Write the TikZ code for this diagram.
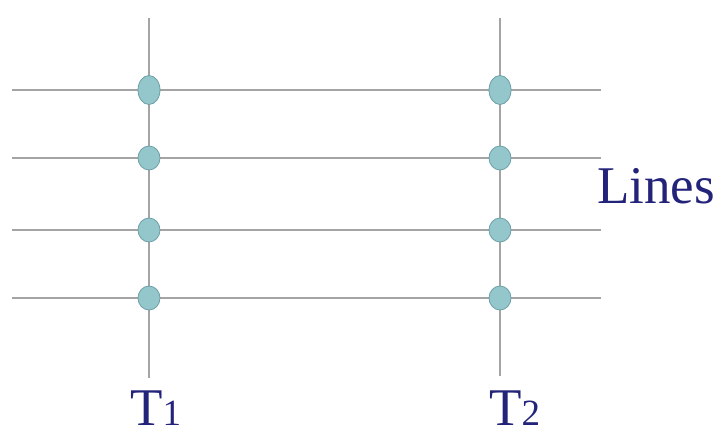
\documentclass[tikz,border=0pt]{standalone}
\usepackage{fontspec}
\setmainfont{Liberation Serif}
\usetikzlibrary{shapes.geometric}
\definecolor{linegray}{HTML}{A4A4A4}
\definecolor{dotfill}{HTML}{93C7CB}
\definecolor{dotedge}{HTML}{6E9FA6}
\definecolor{navy}{HTML}{23237A}
\begin{document}
\begin{tikzpicture}[x=1pt,y=-1pt,
  gridline/.style={draw=linegray,line width=1.6pt},
  dot/.style={ellipse,fill=dotfill,draw=dotedge,line width=0.8pt,inner sep=0pt,minimum width=22pt,minimum height=24pt},
  tall/.style={minimum height=29pt},
  lbl/.style={text=navy,inner sep=0pt,anchor=base west,font=\fontsize{53}{53}\selectfont}]
\useasboundingbox (0,0) rectangle (719,433);
% vertical line ends
\coordinate (t1top) at (149,18);
\coordinate (t1bot) at (149,378);
\coordinate (t2top) at (500,18);
\coordinate (t2bot) at (500,376);
% horizontal line ends
\foreach \i/\y in {1/90,2/158,3/230,4/298}{
  \coordinate (l\i) at (12,\y);
  \coordinate (r\i) at (601,\y);
}
\draw[gridline] (t1top) -- (t1bot);
\draw[gridline] (t2top) -- (t2bot);
\foreach \i in {1,...,4}{ \draw[gridline] (l\i) -- (r\i); }
% dots
\node[dot,tall] (a1) at (149,90) {};
\node[dot] (a2) at (149,158) {};
\node[dot] (a3) at (149,230) {};
\node[dot] (a4) at (149,298) {};
\node[dot,tall] (b1) at (500,90) {};
\node[dot] (b2) at (500,158) {};
\node[dot] (b3) at (500,230) {};
\node[dot] (b4) at (500,298) {};
% labels
\node[lbl] (lines) at (597,203) {Lines};
\node[lbl] (T1) at (130,425) {T{\fontsize{37}{37}\selectfont 1}};
\node[lbl] (T2) at (489,425) {T{\fontsize{37}{37}\selectfont 2}};
\end{tikzpicture}
\end{document}
